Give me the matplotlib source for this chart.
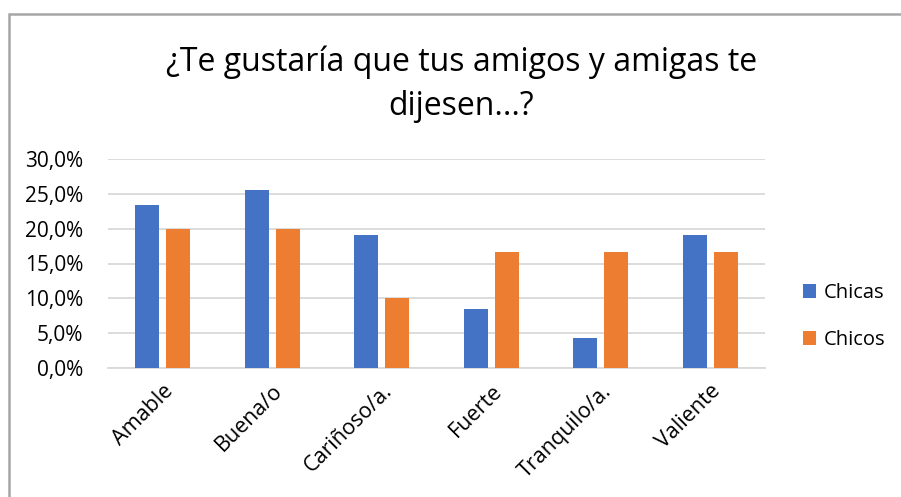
import numpy as np
import matplotlib.pyplot as plt
from matplotlib.ticker import FuncFormatter
from matplotlib.patches import Rectangle

plt.rcParams['font.family'] = ['Open Sans', 'DejaVu Sans']

categorias = ["Amable", "Buena/o", "Cariñoso/a.", "Fuerte", "Tranquilo/a.", "Valiente"]
chicas = [23.4, 25.5, 19.1, 8.5, 4.3, 19.1]
chicos = [20.0, 20.0, 10.0, 16.7, 16.7, 16.7]

azul = "#4472C4"
naranja = "#ED7D31"

fig = plt.figure(figsize=(9.01, 4.97), dpi=100)
ax = fig.add_axes([108 / 901, 1 - 368 / 497, 657 / 901, 209 / 497])

x = np.arange(len(categorias))
ancho = 0.22
ax.bar(x - 0.14, chicas, ancho, color=azul, label="Chicas", zorder=3)
ax.bar(x + 0.14, chicos, ancho, color=naranja, label="Chicos", zorder=3)

ax.set_xlim(-0.5, len(categorias) - 0.5)
ax.set_ylim(0, 30)
ax.set_yticks(np.arange(0, 31, 5))
ax.yaxis.set_major_formatter(FuncFormatter(lambda v, p: f"{v:.1f}%".replace(".", ",")))
ax.grid(axis="y", color="#d9d9d9", linewidth=1.3, zorder=0)
for s in ["top", "right", "left"]:
    ax.spines[s].set_visible(False)
ax.spines["bottom"].set_color("#d9d9d9")
ax.spines["bottom"].set_linewidth(1.3)
ax.tick_params(axis="both", length=0, colors="black")
ax.tick_params(axis="y", pad=18, labelsize=15)

ax.set_xticks(x)
ax.set_xticklabels(categorias, rotation=45, ha="right", rotation_mode="anchor")
ax.tick_params(axis="x", pad=9, labelsize=15.5)

fig.text(0.512, 1 - 62 / 497, "¿Te gustaría que tus amigos y amigas te", ha="center", va="center", fontsize=23)
fig.text(0.512, 1 - 106 / 497, "dijesen...?", ha="center", va="center", fontsize=23)

ax.legend(loc="center left", bbox_to_anchor=(1.03, 0.246), frameon=False, fontsize=14.5,
          handlelength=0.65, handleheight=0.65, handletextpad=0.4, labelspacing=1.35)

# marco gris del área del gráfico
fig.patches.append(Rectangle((9 / 901, -0.1), 1.2, 1 - 14 / 497 + 0.1, transform=fig.transFigure,
                             fill=False, edgecolor="#a6a6a6", linewidth=1.8))

fig.savefig("out.png", dpi=100)
